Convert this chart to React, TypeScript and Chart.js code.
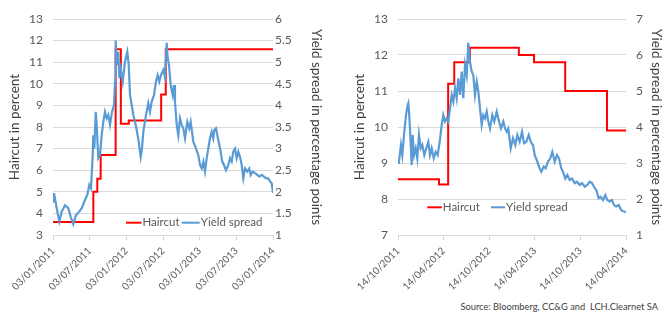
import React, { useEffect, useRef } from 'react';
import { Chart, registerables } from 'chart.js';

Chart.register(...registerables);

// ---------- Left chart (CC&G) ----------
const leftTickMonths = [0, 6, 12, 18, 24, 30, 36];
const leftTickLabels = ['03/01/2011', '03/07/2011', '03/01/2012', '03/07/2012', '03/01/2013', '03/07/2013', '03/01/2014'];

const leftHaircutMonths = [0, 6.6, 7.25, 7.8, 10.25, 11.1, 12.4, 17.7, 18.45, 36];
const leftHaircutValues = [3.6, 5.0, 5.6, 6.7, 11.6, 8.15, 8.3, 9.5, 11.6, 11.6];

const leftSpreadMonths = [0, 0.16, 0.61, 1.03, 1.42, 1.96, 2.5, 2.9, 3.32, 3.76, 4.3, 4.7, 5.24, 5.61, 5.94, 6.22, 6.5, 6.59, 6.76, 6.99, 7.15, 7.41, 7.69, 7.97, 8.23, 8.51, 8.79, 9.05, 9.33, 9.65, 9.98, 10.15, 10.26, 10.42, 10.69, 10.85, 11.08, 11.41, 11.78, 12.16, 12.39, 12.6, 12.88, 13.14, 13.42, 13.7, 14.02, 14.35, 14.56, 14.78, 15.22, 15.59, 15.87, 16.15, 16.53, 16.85, 17.13, 17.39, 17.67, 18.05, 18.33, 18.61, 18.77, 18.98, 19.26, 19.59, 19.8, 19.96, 20.24, 20.5, 20.78, 21.06, 21.32, 21.6, 21.98, 22.3, 22.53, 22.96, 23.4, 23.78, 24.06, 24.33, 24.6, 24.87, 25.15, 25.41, 25.69, 25.97, 26.23, 26.4, 26.67, 26.89, 27.11, 27.44, 27.7, 27.98, 28.31, 28.69, 28.96, 29.24, 29.5, 29.78, 30.06, 30.32, 30.6, 30.88, 31.14, 31.42, 31.79, 32.12, 32.35, 32.68, 33.06, 33.43, 33.76, 34.15, 34.53, 34.86, 35.23, 35.51, 35.79, 36];
const leftSpreadValues = [1.78, 1.97, 1.62, 1.31, 1.54, 1.69, 1.62, 1.42, 1.25, 1.46, 1.54, 1.62, 1.81, 1.93, 2.16, 2.08, 2.85, 3.31, 3.0, 3.85, 3.55, 2.78, 2.85, 3.31, 3.62, 3.85, 3.7, 3.78, 3.55, 3.85, 4.0, 4.55, 5.5, 4.94, 5.24, 4.63, 4.86, 4.55, 5.01, 5.24, 4.94, 4.24, 4.01, 3.78, 3.62, 3.43, 3.16, 2.81, 3.0, 3.39, 3.78, 4.05, 3.85, 4.09, 4.24, 4.55, 4.7, 4.55, 4.7, 4.82, 4.66, 5.45, 5.09, 4.94, 4.47, 4.24, 4.47, 4.09, 3.55, 3.31, 3.7, 3.55, 3.47, 3.24, 3.62, 3.47, 3.62, 3.16, 3.0, 2.85, 2.62, 2.54, 2.7, 2.47, 2.78, 3.0, 3.24, 3.39, 3.24, 3.43, 3.47, 3.31, 3.16, 2.93, 2.7, 2.62, 2.5, 2.62, 2.78, 2.7, 2.93, 3.0, 2.78, 2.93, 2.81, 2.62, 2.31, 2.54, 2.47, 2.54, 2.39, 2.47, 2.43, 2.39, 2.35, 2.39, 2.35, 2.31, 2.31, 2.24, 2.2, 1.97];

// ---------- Right chart (LCH.Clearnet SA) ----------
const rightTickMonths = [0, 6, 12, 18, 24, 30];
const rightTickLabels = ['14/10/2011', '14/04/2012', '14/10/2012', '14/04/2013', '14/10/2013', '14/04/2014'];

const rightHaircutMonths = [0, 5.4, 6.6, 7.4, 9.45, 15.9, 17.9, 22.0, 27.5, 30];
const rightHaircutValues = [8.55, 8.4, 11.2, 11.8, 12.2, 12.0, 11.8, 11.0, 9.9, 9.9];

const rightSpreadMonths = [0, 0.13, 0.39, 0.57, 0.83, 1.05, 1.28, 1.36, 1.45, 1.62, 1.8, 1.93, 2.11, 2.33, 2.54, 2.76, 2.99, 3.2, 3.46, 3.72, 3.99, 4.21, 4.43, 4.7, 4.96, 5.22, 5.49, 5.75, 5.96, 6.18, 6.41, 6.62, 6.84, 7.07, 7.28, 7.5, 7.72, 7.93, 8.16, 8.38, 8.59, 8.82, 9.04, 9.25, 9.47, 9.7, 9.91, 10.13, 10.36, 10.57, 10.79, 11.01, 11.22, 11.45, 11.67, 11.88, 12.11, 12.41, 12.67, 12.99, 13.29, 13.55, 13.86, 14.08, 14.3, 14.51, 14.83, 15.13, 15.43, 15.7, 16.01, 16.32, 16.58, 16.88, 17.2, 17.46, 17.76, 17.99, 18.33, 18.64, 18.86, 19.17, 19.43, 19.74, 20.04, 20.3, 20.62, 20.92, 21.18, 21.49, 21.71, 22.01, 22.28, 22.59, 22.89, 23.25, 23.55, 23.91, 24.21, 24.57, 24.91, 25.22, 25.53, 25.79, 26.09, 26.41, 26.67, 26.97, 27.28, 27.54, 27.86, 28.16, 28.42, 28.72, 29.04, 29.38, 29.74, 30];
const rightSpreadValues = [3.0, 3.04, 3.5, 3.22, 3.87, 4.33, 4.61, 4.66, 4.43, 3.78, 2.94, 3.78, 3.22, 3.41, 3.13, 3.78, 3.41, 3.5, 3.22, 3.41, 3.59, 3.22, 3.41, 3.13, 3.31, 3.22, 3.59, 4.06, 4.33, 4.15, 4.24, 4.15, 4.52, 4.89, 4.7, 5.08, 4.8, 5.35, 4.89, 5.54, 4.8, 5.72, 5.44, 6.34, 5.81, 5.54, 5.44, 4.89, 5.26, 4.98, 4.52, 4.06, 4.33, 4.24, 4.43, 4.15, 3.96, 4.33, 4.15, 4.43, 4.15, 3.96, 4.15, 3.96, 3.87, 3.96, 3.41, 3.69, 3.5, 3.78, 3.59, 3.87, 3.55, 3.59, 3.78, 3.59, 3.5, 3.22, 3.04, 2.85, 2.76, 2.9, 2.85, 3.04, 3.13, 3.31, 3.04, 3.22, 3.13, 2.85, 2.76, 2.57, 2.67, 2.53, 2.57, 2.44, 2.48, 2.39, 2.44, 2.34, 2.39, 2.48, 2.44, 2.34, 2.25, 2.02, 2.06, 1.97, 2.11, 1.97, 1.93, 1.97, 1.83, 1.79, 1.83, 1.69, 1.65, 1.63];

const seriesNames = ['Haircut', 'Yield spread'];
const leftAxisTitle = 'Haircut in percent';
const rightAxisTitle = 'Yield spread in percentage points';
const sourceText = 'Source: Bloomberg, CC&G and  LCH.Clearnet SA';

const RED = '#ff0000';
const BLUE = '#5b9bd5';
const GRID = '#d9d9d9';
const TICK = '#595959';
const TITLE = '#404040';
const FONT = 'Lato';

const CANVAS_H = 290;
const AREA_TOP = 19;
const AREA_BOTTOM = 235;

type Spec = {
  width: number;
  tickMonths: number[];
  tickLabels: string[];
  haircutMonths: number[];
  haircutValues: number[];
  spreadMonths: number[];
  spreadValues: number[];
  yMin: number;
  yMax: number;
  y1Min: number;
  y1Max: number;
  y1Step: number;
  leftW: number;
  rightW: number;
  leftTitlePad: number;
  rightTitlePad: number;
  rightTitleLineHeight: number;
  rightTickPad: number;
  legend: { redX: number; blueX: number; dy: number; redLen: number; blueLen: number };
};

function legendPlugin(spec: Spec) {
  return {
    id: 'customLegend',
    afterDatasetsDraw(chart: any) {
      const { ctx, chartArea } = chart;
      const y = chartArea.bottom + spec.legend.dy;
      const items = [
        { x: chartArea.left + spec.legend.redX, len: spec.legend.redLen, color: RED, text: seriesNames[0] },
        { x: chartArea.left + spec.legend.blueX, len: spec.legend.blueLen, color: BLUE, text: seriesNames[1] },
      ];
      ctx.save();
      ctx.font = `11.5px ${FONT}`;
      ctx.textBaseline = 'middle';
      ctx.textAlign = 'left';
      for (const it of items) {
        ctx.strokeStyle = it.color;
        ctx.lineWidth = 2;
        ctx.beginPath();
        ctx.moveTo(it.x, y);
        ctx.lineTo(it.x + it.len, y);
        ctx.stroke();
        ctx.fillStyle = TICK;
        ctx.fillText(it.text, it.x + it.len + 1, y);
      }
      ctx.restore();
    },
  };
}

function buildConfig(spec: Spec): any {
  const haircut = spec.haircutMonths.map((m, i) => ({ x: m, y: spec.haircutValues[i] }));
  const spread = spec.spreadMonths.map((m, i) => ({ x: m, y: spec.spreadValues[i] }));
  return {
    type: 'line',
    data: {
      datasets: [
        {
          label: seriesNames[0],
          data: haircut,
          yAxisID: 'y',
          borderColor: RED,
          borderWidth: 2,
          stepped: 'before',
          pointRadius: 0,
          fill: false,
          order: 1,
        },
        {
          label: seriesNames[1],
          data: spread,
          yAxisID: 'y1',
          borderColor: BLUE,
          borderWidth: 2.2,
          pointRadius: 0,
          tension: 0,
          fill: false,
          order: 0,
        },
      ],
    },
    options: {
      responsive: false,
      animation: false,
      events: [],
      layout: { padding: { top: AREA_TOP, left: 0, right: 0, bottom: 0 } },
      plugins: { legend: { display: false }, tooltip: { enabled: false } },
      scales: {
        x: {
          type: 'linear',
          min: spec.tickMonths[0],
          max: spec.tickMonths[spec.tickMonths.length - 1],
          afterBuildTicks: (scale: any) => {
            scale.ticks = spec.tickMonths.map((v) => ({ value: v }));
          },
          ticks: {
            autoSkip: false,
            maxRotation: 45,
            minRotation: 45,
            padding: 5,
            color: TICK,
            font: { family: FONT, size: 10 },
            callback: (_v: any, i: number) => spec.tickLabels[i],
          },
          grid: { display: true, drawOnChartArea: false, drawTicks: true, tickLength: 5, color: GRID },
          border: { display: true, color: GRID },
          afterFit: (s: any) => {
            s.height = CANVAS_H - AREA_BOTTOM;
            s.paddingLeft = 0;
            s.paddingRight = 0;
          },
        },
        y: {
          position: 'left',
          min: spec.yMin,
          max: spec.yMax,
          ticks: { stepSize: 1, padding: 10, color: TICK, font: { family: FONT, size: 12 }, callback: (v: any) => String(v) },
          grid: { color: GRID, drawTicks: false, lineWidth: 1 },
          border: { display: false },
          title: {
            display: true,
            text: leftAxisTitle,
            color: TITLE,
            font: { family: FONT, size: 13.5 },
            padding: { top: spec.leftTitlePad, bottom: 0 },
          },
          afterFit: (s: any) => {
            s.width = spec.leftW;
            s.paddingTop = 0;
            s.paddingBottom = 0;
          },
        },
        y1: {
          position: 'right',
          min: spec.y1Min,
          max: spec.y1Max,
          ticks: { stepSize: spec.y1Step, padding: spec.rightTickPad, color: TICK, font: { family: FONT, size: 12 }, callback: (v: any) => String(v) },
          grid: { display: false, drawTicks: false },
          border: { display: false },
          title: {
            display: true,
            text: rightAxisTitle,
            color: TITLE,
            font: { family: FONT, size: 13.5, lineHeight: spec.rightTitleLineHeight },
            padding: { top: spec.rightTitlePad, bottom: 0 },
          },
          afterFit: (s: any) => {
            s.width = spec.rightW;
            s.paddingTop = 0;
            s.paddingBottom = 0;
          },
        },
      },
    },
    plugins: [legendPlugin(spec)],
  };
}

const leftSpec: Spec = {
  width: 330,
  tickMonths: leftTickMonths,
  tickLabels: leftTickLabels,
  haircutMonths: leftHaircutMonths,
  haircutValues: leftHaircutValues,
  spreadMonths: leftSpreadMonths,
  spreadValues: leftSpreadValues,
  yMin: 3,
  yMax: 13,
  y1Min: 1,
  y1Max: 6,
  y1Step: 0.5,
  leftW: 53,
  rightW: 57,
  leftTitlePad: 7,
  rightTitlePad: 6,
  rightTitleLineHeight: 1.2,
  rightTickPad: 2,
  legend: { redX: 73, blueX: 128.7, dy: -12.3, redLen: 15.5, blueLen: 18 },
};

const rightSpec: Spec = {
  width: 333,
  tickMonths: rightTickMonths,
  tickLabels: rightTickLabels,
  haircutMonths: rightHaircutMonths,
  haircutValues: rightHaircutValues,
  spreadMonths: rightSpreadMonths,
  spreadValues: rightSpreadValues,
  yMin: 7,
  yMax: 13,
  y1Min: 1,
  y1Max: 7,
  y1Step: 1,
  leftW: 68,
  rightW: 37,
  leftTitlePad: 22,
  rightTitlePad: 0,
  rightTitleLineHeight: 1.0,
  rightTickPad: 10,
  legend: { redX: 29.3, blueX: 93, dy: -27.7, redLen: 14.5, blueLen: 14 },
};

function ChartCanvas({ spec, left }: { spec: Spec; left: number }) {
  const ref = useRef<HTMLCanvasElement | null>(null);
  useEffect(() => {
    if (!ref.current) return;
    const chart = new Chart(ref.current, buildConfig(spec));
    return () => chart.destroy();
  }, [spec]);
  return (
    <canvas
      ref={ref}
      width={spec.width}
      height={CANVAS_H}
      style={{ position: 'absolute', left, top: 0, width: spec.width, height: CANVAS_H }}
    />
  );
}

export default function App() {
  return (
    <div style={{ position: 'relative', width: 663, height: 313, background: '#fff', overflow: 'hidden' }}>
      <style>{`body{margin:0;background:#fff;}`}</style>
      <ChartCanvas spec={leftSpec} left={0} />
      <ChartCanvas spec={rightSpec} left={330} />
      <div
        style={{
          position: 'absolute',
          right: 5,
          top: 301,
          fontFamily: FONT,
          fontSize: 9.3,
          color: TITLE,
          whiteSpace: 'pre',
          lineHeight: '12px',
        }}
      >
        {sourceText}
      </div>
    </div>
  );
}
